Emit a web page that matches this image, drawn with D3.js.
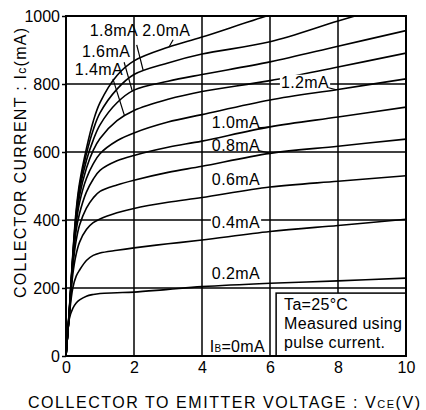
<!DOCTYPE html>
<html><head><meta charset="utf-8">
<script src="https://cdn.jsdelivr.net/npm/d3@7"></script>
<style>html,body{margin:0;padding:0;background:#fff;} svg{display:block;}</style>
</head><body>
<svg id="chart" width="426" height="410"></svg>
<script>
// ---- data ----
const voltage = [0, 0.1, 0.2, 0.3, 0.4, 0.6, 0.8, 1, 1.5, 2, 3, 4, 6, 8, 10];
const baseCurrents = ["0.2mA","0.4mA","0.6mA","0.8mA","1.0mA","1.2mA","1.4mA","1.6mA","1.8mA","2.0mA"];
const ic_0_2mA = [0, 110, 140, 156, 165, 176, 181, 184, 186, 188, 196, 204, 214, 221, 229];
const ic_0_4mA = [0, 122, 200, 235, 253, 281, 296, 303, 311, 318, 330, 341, 366, 384, 402];
const ic_0_6mA = [0, 126, 240, 300, 335, 372, 392, 403, 421, 434, 452, 466, 497, 514, 530];
const ic_0_8mA = [0, 128, 262, 340, 385, 435, 465, 484, 503, 517, 540, 558, 596, 617, 638];
const ic_1_0mA = [0, 130, 272, 370, 420, 482, 520, 546, 574, 590, 614, 632, 674, 703, 732];
const ic_1_2mA = [0, 132, 280, 390, 452, 522, 565, 595, 633, 656, 688, 710, 753, 784, 815];
const ic_1_4mA = [0, 134, 285, 400, 472, 552, 605, 640, 692, 722, 755, 778, 810, 850, 891];
const ic_1_6mA = [0, 136, 290, 410, 488, 575, 635, 680, 745, 782, 808, 828, 865, 911, 957];
const ic_1_8mA = [0, 138, 295, 420, 500, 595, 665, 715, 785, 828, 862, 888, 924, 985, 1045];
const ic_2_0mA = [0, 140, 300, 430, 510, 610, 690, 745, 825, 868, 908, 938, 1003, 1060, 1110];
const xTicks = [0, 2, 4, 6, 8, 10];
const yTicks = [0, 200, 400, 600, 800, 1000];
const noteLines = ["Ta=25°C", "Measured using", "pulse current."];

const seriesValues = [ic_0_2mA, ic_0_4mA, ic_0_6mA, ic_0_8mA, ic_1_0mA, ic_1_2mA, ic_1_4mA, ic_1_6mA, ic_1_8mA, ic_2_0mA];
const series = baseCurrents.map((name, i) => ({ name, pts: voltage.map((v, j) => [v, seriesValues[i][j]]) }));

// ---- annotation placement (data units) ----
const curveLabels = [
  { text: "2.0mA", v: 2.24, ic: 941 },
  { text: "1.8mA", v: 0.70, ic: 941 },
  { text: "1.6mA", v: 0.47, ic: 879 },
  { text: "1.4mA", v: 0.26, ic: 826 },
  { text: "1.2mA", v: 6.32, ic: 789, bg: true },
  { text: "1.0mA", v: 4.29, ic: 671 },
  { text: "0.8mA", v: 4.29, ic: 604 },
  { text: "0.6mA", v: 4.29, ic: 503 },
  { text: "0.4mA", v: 4.29, ic: 377, bg: true },
  { text: "0.2mA", v: 4.29, ic: 226 }
];
const leaders = [
  [[3.15, 930], [3.03, 909]],
  [[2.08, 915], [2.27, 840]],
  [[1.71, 864], [1.95, 779]],
  [[1.38, 815], [1.72, 707]],
  [[5.66, 671], [6.0, 674]],
  [[5.66, 604], [6.0, 597]],
  [[7.72, 789], [7.95, 783]]
];
const noteBox = { v0: 6.18, v1: 10, ic0: 0, ic1: 185 };

// ---- drawing ----
const W = 426, H = 410;
const L = 66, R = 406, T = 16, B = 356;
const FONT = "'Liberation Sans', Arial, Helvetica, sans-serif";
const svg = d3.select("#chart");
svg.append("rect").attr("width", W).attr("height", H).attr("fill", "#fff");

const x = d3.scaleLinear().domain([0, 10]).range([L, R]);
const y = d3.scaleLinear().domain([0, 1000]).range([B, T]);

svg.append("defs").append("clipPath").attr("id", "plotclip")
  .append("rect").attr("x", L).attr("y", T).attr("width", R - L).attr("height", B - T);

// grid
const grid = svg.append("g").attr("stroke", "#000").attr("stroke-width", 1.5);
grid.selectAll("line.v").data(xTicks.slice(1, -1)).join("line")
  .attr("x1", d => x(d)).attr("x2", d => x(d)).attr("y1", T).attr("y2", B);
grid.selectAll("line.h").data(yTicks.slice(1, -1)).join("line")
  .attr("y1", d => y(d)).attr("y2", d => y(d)).attr("x1", L).attr("x2", R);

// y axis ticks + labels
const yAxis = svg.append("g").attr("transform", `translate(${L},0)`)
  .call(d3.axisLeft(y).tickValues(yTicks).tickSize(4).tickPadding(2).tickFormat(d3.format("d")));
yAxis.select(".domain").remove();
yAxis.selectAll("line").attr("stroke", "#000").attr("stroke-width", 1.5);
yAxis.selectAll("text").attr("font-family", FONT).attr("font-size", 16).attr("fill", "#000");

// x axis labels
const xAxis = svg.append("g").attr("transform", `translate(0,${B})`)
  .call(d3.axisBottom(x).tickValues(xTicks).tickSize(0).tickPadding(6).tickFormat(d3.format("d")));
xAxis.select(".domain").remove();
xAxis.selectAll("text").attr("font-family", FONT).attr("font-size", 16).attr("fill", "#000");

// curves
const line = d3.line().x(d => x(d[0])).y(d => y(d[1])).curve(d3.curveCatmullRom.alpha(0.5));
svg.append("g").attr("clip-path", "url(#plotclip)")
  .selectAll("path").data(series).join("path")
  .attr("d", d => line(d.pts)).attr("fill", "none")
  .attr("stroke", "#000").attr("stroke-width", 1.6);

// note box
svg.append("rect")
  .attr("x", x(noteBox.v0)).attr("y", y(noteBox.ic1))
  .attr("width", x(noteBox.v1) - x(noteBox.v0)).attr("height", y(noteBox.ic0) - y(noteBox.ic1))
  .attr("fill", "#fff").attr("stroke", "#000").attr("stroke-width", 1.5);
svg.append("g").selectAll("text").data(noteLines).join("text")
  .attr("x", x(noteBox.v0) + 8).attr("y", (d, i) => y(noteBox.ic1) + 17 + i * 19)
  .attr("font-family", FONT).attr("font-size", 16).attr("letter-spacing", 0.3).attr("fill", "#000")
  .text(d => d);

// curve labels
const lab = svg.append("g");
curveLabels.forEach(c => {
  const g = lab.append("g");
  const t = g.append("text").attr("x", x(c.v)).attr("y", y(c.ic))
    .attr("font-family", FONT).attr("font-size", 16).attr("letter-spacing", 0.4).attr("fill", "#000")
    .text(c.text);
  if (c.bg) {
    const bb = t.node().getBBox();
    g.insert("rect", "text").attr("x", bb.x - 1).attr("y", y(c.ic) - 13)
      .attr("width", bb.width + 2).attr("height", 15).attr("fill", "#fff");
  }
});
svg.append("g").selectAll("line").data(leaders).join("line")
  .attr("x1", d => x(d[0][0])).attr("y1", d => y(d[0][1]))
  .attr("x2", d => x(d[1][0])).attr("y2", d => y(d[1][1]))
  .attr("stroke", "#000").attr("stroke-width", 1.2);

// IB=0mA
const ib = svg.append("text").attr("x", x(5.85)).attr("y", y(12)).attr("text-anchor", "end")
  .attr("font-family", FONT).attr("font-size", 16).attr("letter-spacing", 0.3).attr("fill", "#000");
ib.append("tspan").text("I");
ib.append("tspan").attr("font-size", 10).text("B");
ib.append("tspan").text("=0mA");

// plot frame
svg.append("rect").attr("x", L).attr("y", T).attr("width", R - L).attr("height", B - T)
  .attr("fill", "none").attr("stroke", "#000").attr("stroke-width", 2);

// axis titles
const xt = svg.append("text").attr("x", 28).attr("y", 408)
  .attr("font-family", FONT).attr("font-size", 16).attr("fill", "#000")
  .attr("textLength", 392).attr("lengthAdjust", "spacing");
xt.append("tspan").text("COLLECTOR  TO  EMITTER  VOLTAGE : V");
xt.append("tspan").attr("font-size", 11).text("CE");
xt.append("tspan").text("(V)");

const yt = svg.append("text").attr("transform", "translate(26,298) rotate(-90)")
  .attr("font-family", FONT).attr("font-size", 16).attr("fill", "#000")
  .attr("textLength", 270).attr("lengthAdjust", "spacing");
yt.append("tspan").text("COLLECTOR CURRENT : I");
yt.append("tspan").attr("font-size", 12).text("c");
yt.append("tspan").text("(mA)");
</script>
</body></html>
